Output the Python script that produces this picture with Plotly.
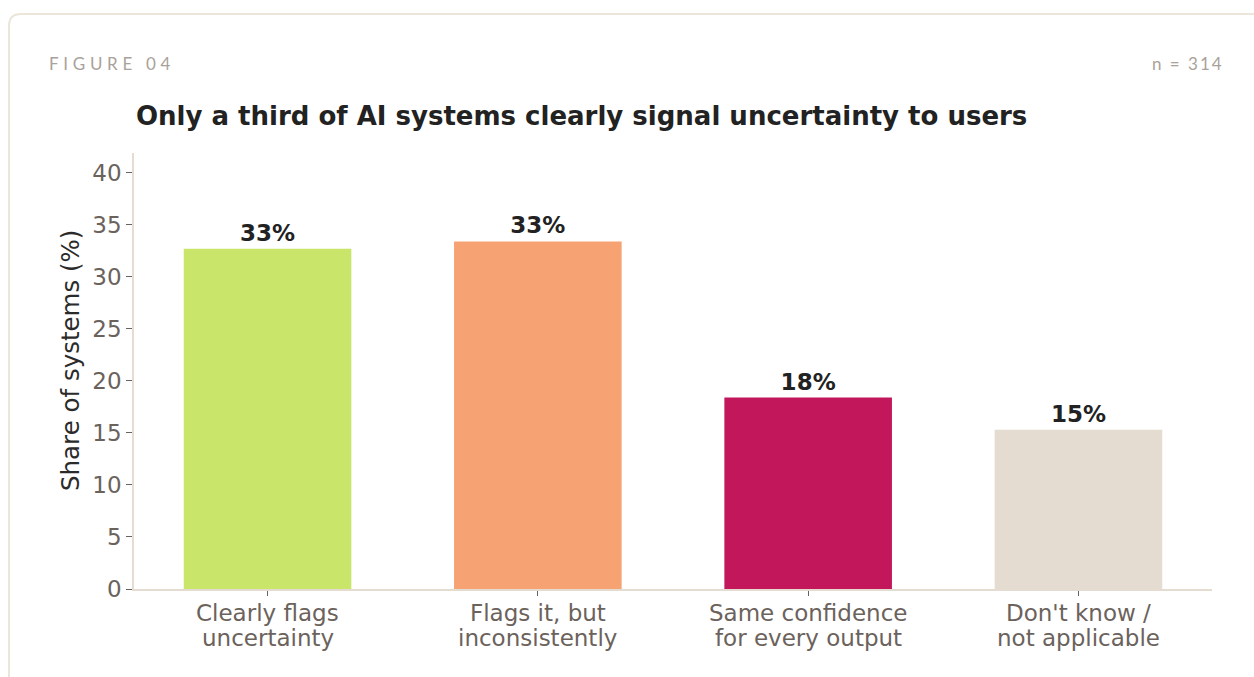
import plotly.graph_objects as go

# Survey result: how AI systems signal uncertainty to users
categories = ["Clearly flags<br>uncertainty", "Flags it, but<br>inconsistently",
              "Same confidence<br>for every output", "Don't know /<br>not applicable"]
shares = [32.7, 33.4, 18.4, 15.3]
bar_colors = ["#c9e66b", "#f6a273", "#c2185b", "#e4dcd0"]
y_ticks = [0, 5, 10, 15, 20, 25, 30, 35, 40]

W, H = 1254, 677
M_L, M_R, M_T, M_B = 134, 42, 153, 88
PW, PH = W - M_L - M_R, H - M_T - M_B


def px(x):
    return (x - M_L) / PW


def py(y):
    return (H - M_B - y) / PH


# rounded card outline (left/top edges visible, rest runs off the page)
L, T, R, B, r = 9, 14, 1270, 700, 12
card_path = (
    f"M {px(L)},{py(B)} L {px(L)},{py(T + r)} "
    f"Q {px(L)},{py(T)} {px(L + r)},{py(T)} "
    f"L {px(R)},{py(T)} L {px(R)},{py(B)} Z"
)

fig = go.Figure(
    go.Bar(
        x=list(range(len(categories))),
        y=shares,
        marker=dict(color=bar_colors, line=dict(width=0)),
        width=0.62,
        text=[f"{round(v)}%" for v in shares],
        textposition="outside",
        textfont=dict(family="DejaVu Sans", size=23, color="#222222", weight="bold"),
        cliponaxis=False,
        hoverinfo="skip",
    )
)

annotations = [
    dict(text='<span style="letter-spacing:4.7px">FIGURE 04</span>',
         xref="paper", yref="paper", x=px(47), y=py(63),
         xanchor="left", yanchor="middle", showarrow=False,
         font=dict(family="Lato", size=17, color="#a9a29a")),
    dict(text='<span style="letter-spacing:2px">n = 314</span>',
         xref="paper", yref="paper", x=px(1226), y=py(63),
         xanchor="right", yanchor="middle", showarrow=False,
         font=dict(family="Lato", size=17, color="#a9a29a")),
    dict(text="Only a third of AI systems clearly signal uncertainty to users",
         xref="paper", yref="paper", x=px(134), y=py(116),
         xanchor="left", yanchor="middle", showarrow=False,
         font=dict(family="DejaVu Sans", size=26, color="#222222", weight="bold")),
    # y-axis title
    dict(text="Share of systems (%)", textangle=-90,
         xref="paper", yref="paper", x=px(70), y=py(361),
         xanchor="center", yanchor="middle", showarrow=False,
         font=dict(family="DejaVu Sans", size=24.5, color="#2b2b2b")),
]

# two-line category labels under each bar, with tighter line spacing
for i, label in enumerate(categories):
    for j, line in enumerate(label.split("<br>")):
        annotations.append(dict(
            text=line, xref="x", yref="y", x=i, y=0,
            xanchor="center", yanchor="middle", yshift=-24 - 25 * j,
            showarrow=False,
            font=dict(family="DejaVu Sans", size=23, color="#6b625c"),
        ))

fig.update_layout(
    width=W,
    height=H,
    margin=dict(l=M_L, r=M_R, t=M_T, b=M_B),
    paper_bgcolor="white",
    plot_bgcolor="white",
    showlegend=False,
    font=dict(family="DejaVu Sans", color="#6b625c"),
    shapes=[
        dict(type="path", path=card_path, xref="paper", yref="paper",
             line=dict(color="#ebe5da", width=2), fillcolor="rgba(0,0,0,0)", layer="below"),
    ],
    annotations=annotations,
)

fig.update_xaxes(
    range=[-0.494, 3.494],
    tickmode="array",
    tickvals=list(range(len(categories))),
    showticklabels=False,
    showgrid=False,
    zeroline=False,
    showline=True,
    linecolor="#e4dcd0",
    linewidth=1.5,
    ticks="outside",
    ticklen=5,
    tickcolor="#6b625c",
)

fig.update_yaxes(
    range=[0, 41.9],
    tickmode="array",
    tickvals=y_ticks,
    showgrid=False,
    zeroline=False,
    showline=True,
    linecolor="#e4dcd0",
    linewidth=1.5,
    ticks="outside",
    ticklen=6,
    tickcolor="#6b625c",
    tickfont=dict(family="DejaVu Sans", size=23, color="#6b625c"),
)

fig.write_html("out.html")
